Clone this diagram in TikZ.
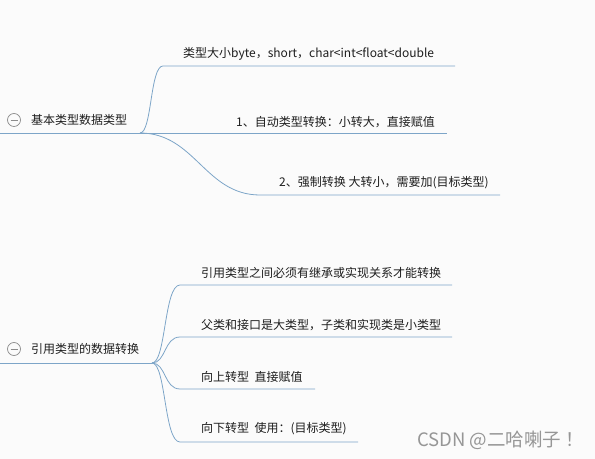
\documentclass[tikz,border=0pt]{standalone}
\usepackage{fontspec}
\setmainfont{Noto Sans CJK SC}
\usetikzlibrary{positioning}
\definecolor{LineBlue}{RGB}{125,165,200}
\definecolor{TextDark}{RGB}{30,30,30}
\definecolor{FoldGray}{RGB}{140,140,140}
\definecolor{MarkGray}{RGB}{150,150,150}
\definecolor{PageBg}{RGB}{251,251,251}

\tikzset{
  branch/.style={draw=LineBlue, line width=0.8pt},
  leaf/.style={anchor=west},
  fold/.style={draw=FoldGray, circle, minimum size=13bp, line width=0.7pt}
}

\begin{document}
\begin{tikzpicture}[x=1bp, y=-1bp, every node/.style={font=\fontsize{12bp}{14bp}\selectfont, text=TextDark, inner sep=0pt}]
        % Background
        \fill[PageBg] (0,0) rectangle (595,459);
        \useasboundingbox (0,0) rectangle (595,459);

        % Root 1
        \node[fold] (fold1) at (14,120) {};
        \draw[FoldGray, line width=0.7pt] ([xshift=-3.5bp]fold1.center) -- ([xshift=3.5bp]fold1.center);
        \node[leaf] (basic) at (31,120) {基本类型数据类型};
        \coordinate (basic-l) at (0,133);
        \coordinate (basic-r) at (140,133);
        \draw[branch] (basic-l) -- (basic-r);

        % Root 1 children
        \node[leaf] (size) at (183,54) {类型大小byte，short，char<int<float<double};
        \coordinate (size-l) at (163,66);
        \coordinate (size-r) at (455,66);
        \draw[branch] (basic-r) .. controls (152,133) and (150,66) .. (size-l) -- (size-r);

        \node[leaf] (auto) at (236,122) {1、自动类型转换：小转大，直接赋值};
        \coordinate (auto-r) at (447,133);
        \draw[branch] (basic-r) -- (auto-r);

        \node[leaf] (cast) at (279,183) {2、强制转换 大转小，需要加(目标类型)};
        \coordinate (cast-l) at (260,195);
        \coordinate (cast-r) at (500,195);
        \draw[branch] (basic-r) .. controls (195,133) and (205,195) .. (cast-l) -- (cast-r);

        % Root 2
        \node[fold] (fold2) at (14,349) {};
        \draw[FoldGray, line width=0.7pt] ([xshift=-3.5bp]fold2.center) -- ([xshift=3.5bp]fold2.center);
        \node[leaf] (ref) at (31,349) {引用类型的数据转换};
        \coordinate (ref-l) at (0,363);
        \coordinate (ref-r) at (152,363);
        \draw[branch] (ref-l) -- (ref-r);

        % Root 2 children
        \node[leaf] (inherit) at (201,273) {引用类型之间必须有继承或实现关系才能转换};
        \coordinate (inherit-l) at (180,285);
        \coordinate (inherit-r) at (452,285);
        \draw[branch] (ref-r) .. controls (166,363) and (164,285) .. (inherit-l) -- (inherit-r);

        \node[leaf] (bigsmall) at (201,325) {父类和接口是大类型，子类和实现类是小类型};
        \coordinate (bigsmall-l) at (180,337);
        \coordinate (bigsmall-r) at (452,337);
        \draw[branch] (ref-r) .. controls (166,363) and (164,337) .. (bigsmall-l) -- (bigsmall-r);

        \node[leaf] (up) at (201,377) {向上转型\ \ 直接赋值};
        \coordinate (up-l) at (180,389);
        \coordinate (up-r) at (315,389);
        \draw[branch] (ref-r) .. controls (166,363) and (164,389) .. (up-l) -- (up-r);

        \node[leaf] (down) at (201,429) {向下转型\ \ 使用：(目标类型)};
        \coordinate (down-l) at (180,442);
        \coordinate (down-r) at (358,442);
        \draw[branch] (ref-r) .. controls (166,363) and (164,442) .. (down-l) -- (down-r);

        % Watermark
        \node[leaf, text=MarkGray, font=\fontsize{18.5bp}{21bp}\selectfont] (mark) at (417,440) {CSDN @二哈喇子 ！};
    \end{tikzpicture}
\end{document}
